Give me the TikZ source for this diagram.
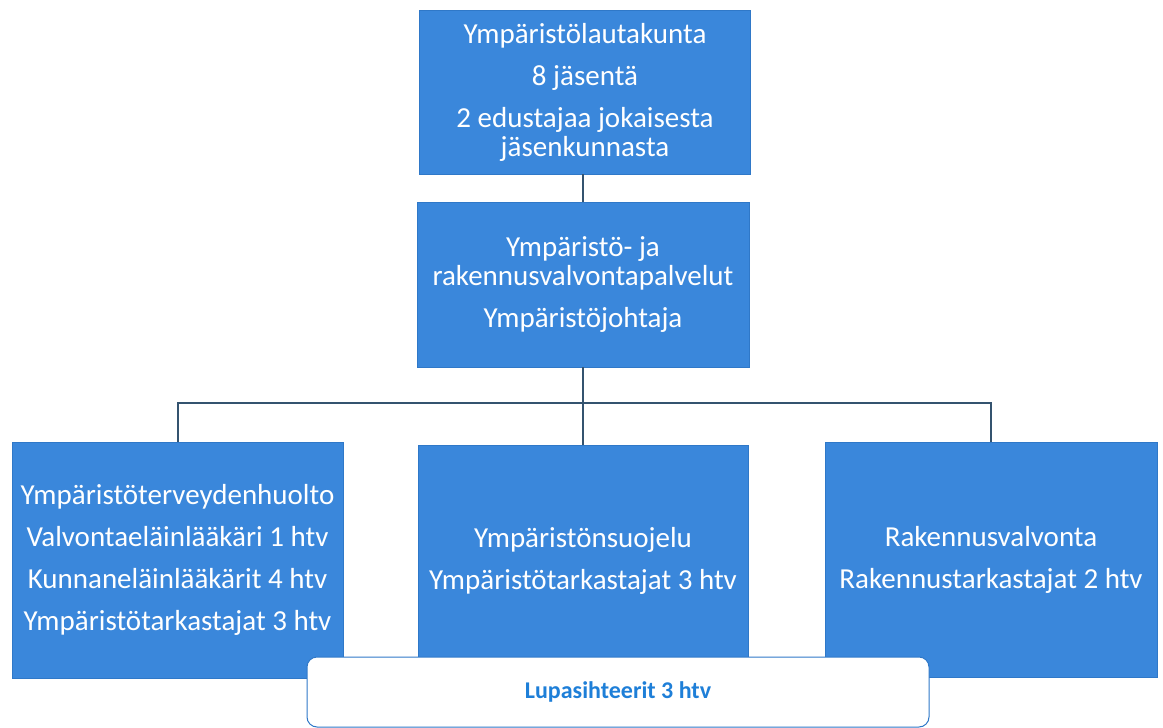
\documentclass[tikz,border=0pt]{standalone}
\usepackage[dvipsnames]{xcolor}
\usepackage{fontspec}
\setmainfont{Carlito}
\usepackage{tikz}

\definecolor{orgblue}{HTML}{3A87DB}
\definecolor{orgedge}{HTML}{2F78C8}
\definecolor{orgline}{HTML}{34536F}
\definecolor{lupatext}{HTML}{1E7FD8}

\begin{document}
\begin{tikzpicture}[
  x=1pt, y=-1pt,
  unit/.style={fill=orgblue, draw=orgedge, line width=0.8pt, text=white,
    align=center, inner sep=0pt,
    font=\fontsize{29}{29}\selectfont},
  link/.style={draw=orgline, line width=2pt}
]
\useasboundingbox (0,0) rectangle (1163,728);

\node[unit, minimum width=331, minimum height=164] (lautakunta) at (585,92)
  {Ympäristölautakunta\\[13pt] 8 jäsentä\\[13pt] 2 edustajaa jokaisesta\\ jäsenkunnasta};
\node[unit, minimum width=332, minimum height=165] (palvelut) at (583,284.5)
  {Ympäristö- ja\\ rakennusvalvontapalvelut\\[13pt] Ympäristöjohtaja};

\node[unit, minimum width=331, minimum height=236] (terveys) at (177.5,560)
  {Ympäristöterveydenhuolto\\[13pt] Valvontaeläinlääkäri 1 htv\\[13pt]
   Kunnaneläinlääkärit 4 htv\\[13pt] Ympäristötarkastajat 3 htv};
\node[unit, minimum width=330, minimum height=232] (suojelu) at (583,561)
  {Ympäristönsuojelu\\[13pt] Ympäristötarkastajat 3 htv};
\node[unit, minimum width=332, minimum height=235] (rakennus) at (991,559.5)
  {Rakennusvalvonta\\[13pt] Rakennustarkastajat 2 htv};

\node[fill=white, draw=orgedge, line width=1pt, rounded corners=10pt,
  minimum width=622, minimum height=70, text=lupatext,
  font=\fontsize{24}{24}\selectfont\bfseries] (lupa) at (618,692)
  {Lupasihteerit 3 htv};

% connectors
\coordinate (haara) at (583,403);
\draw[link] (lautakunta.south -| palvelut.north) -- (palvelut.north);
\draw[link] (palvelut.south) -- (haara) -- (suojelu.north);
\draw[link] (terveys.north) |- (haara) -| (rakennus.north);
\end{tikzpicture}
\end{document}
